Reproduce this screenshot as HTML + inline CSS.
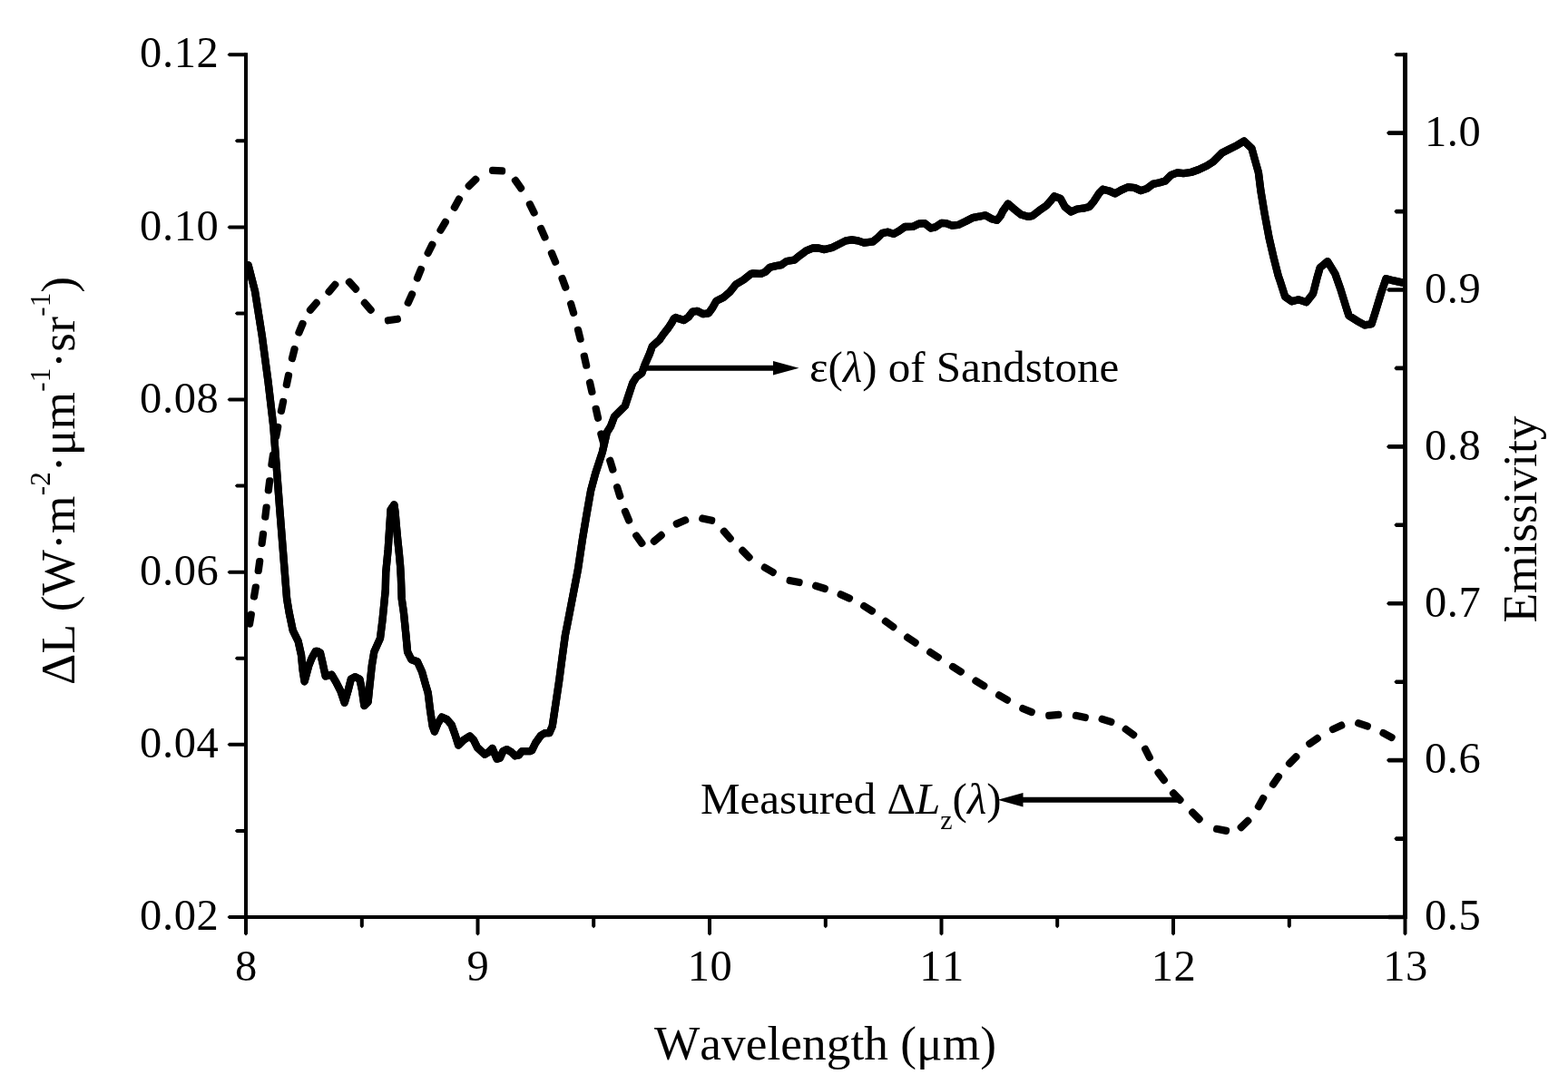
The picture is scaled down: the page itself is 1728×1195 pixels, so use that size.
<!DOCTYPE html>
<html lang="en"><head><meta charset="utf-8"><title>Emissivity and measured radiance of sandstone</title>
<style>html,body{margin:0;padding:0;background:#fff;}body{width:1728px;height:1195px;overflow:hidden;}svg{display:block;}text{font-family:"Liberation Serif","DejaVu Serif",serif;fill:#000;font-kerning:none;}</style>
</head><body>
<svg width="1728" height="1195" viewBox="0 0 1728 1195">
<rect width="1728" height="1195" fill="#fff"/>
<g fill="#000">
<rect x="269.0" y="58.2" width="4.0" height="954.8"/>
<rect x="269.0" y="1009.0" width="1282.0" height="4.0"/>
<rect x="1546.0" y="58.2" width="5.0" height="954.8"/>
<path d="M271.0 1009.0 H252.5 L250.5 1011.0 L252.5 1013.0 H271.0 Z M271.0 913.9 H260.8 L258.8 915.9 L260.8 917.9 H271.0 Z M271.0 818.8 H252.5 L250.5 820.8 L252.5 822.8 H271.0 Z M271.0 723.8 H260.8 L258.8 725.8 L260.8 727.8 H271.0 Z M271.0 628.7 H252.5 L250.5 630.7 L252.5 632.7 H271.0 Z M271.0 533.6 H260.8 L258.8 535.6 L260.8 537.6 H271.0 Z M271.0 438.5 H252.5 L250.5 440.5 L252.5 442.5 H271.0 Z M271.0 343.4 H260.8 L258.8 345.4 L260.8 347.4 H271.0 Z M271.0 248.4 H252.5 L250.5 250.4 L252.5 252.4 H271.0 Z M271.0 153.3 H260.8 L258.8 155.3 L260.8 157.3 H271.0 Z M271.0 58.2 H252.5 L250.5 60.2 L252.5 62.2 H271.0 Z M1548.5 1008.7 H1530.0 L1528.0 1011.0 L1530.0 1013.3 H1548.5 Z M1548.5 922.3 H1538.3 L1536.3 924.6 L1538.3 926.9 H1548.5 Z M1548.5 835.8 H1530.0 L1528.0 838.1 L1530.0 840.4 H1548.5 Z M1548.5 749.4 H1538.3 L1536.3 751.7 L1538.3 754.0 H1548.5 Z M1548.5 663.0 H1530.0 L1528.0 665.3 L1530.0 667.6 H1548.5 Z M1548.5 576.5 H1538.3 L1536.3 578.8 L1538.3 581.1 H1548.5 Z M1548.5 490.1 H1530.0 L1528.0 492.4 L1530.0 494.7 H1548.5 Z M1548.5 403.6 H1538.3 L1536.3 405.9 L1538.3 408.2 H1548.5 Z M1548.5 317.2 H1530.0 L1528.0 319.5 L1530.0 321.8 H1548.5 Z M1548.5 230.8 H1538.3 L1536.3 233.1 L1538.3 235.4 H1548.5 Z M1548.5 144.3 H1530.0 L1528.0 146.6 L1530.0 148.9 H1548.5 Z M1548.5 58.2 H1538.3 L1536.3 60.2 L1538.3 62.2 H1548.5 Z M269.0 1011.0 V1029.5 L271.0 1031.5 L273.0 1029.5 V1011.0 Z M396.8 1011.0 V1021.2 L398.8 1023.2 L400.8 1021.2 V1011.0 Z M524.5 1011.0 V1029.5 L526.5 1031.5 L528.5 1029.5 V1011.0 Z M652.2 1011.0 V1021.2 L654.2 1023.2 L656.2 1021.2 V1011.0 Z M780.0 1011.0 V1029.5 L782.0 1031.5 L784.0 1029.5 V1011.0 Z M907.8 1011.0 V1021.2 L909.8 1023.2 L911.8 1021.2 V1011.0 Z M1035.5 1011.0 V1029.5 L1037.5 1031.5 L1039.5 1029.5 V1011.0 Z M1163.2 1011.0 V1021.2 L1165.2 1023.2 L1167.2 1021.2 V1011.0 Z M1291.0 1011.0 V1029.5 L1293.0 1031.5 L1295.0 1029.5 V1011.0 Z M1418.8 1011.0 V1021.2 L1420.8 1023.2 L1422.8 1021.2 V1011.0 Z M1546.5 1011.0 V1029.5 L1548.5 1031.5 L1550.5 1029.5 V1011.0 Z"/>
</g>
<g font-size="48.5" letter-spacing="0.6">
<text x="241.4" y="1025.2" text-anchor="end">0.02</text>
<text x="241.4" y="835.0" text-anchor="end">0.04</text>
<text x="241.4" y="644.9" text-anchor="end">0.06</text>
<text x="241.4" y="454.7" text-anchor="end">0.08</text>
<text x="241.4" y="264.6" text-anchor="end">0.10</text>
<text x="241.4" y="74.4" text-anchor="end">0.12</text>
<text x="1570" y="1025.2">0.5</text>
<text x="1570" y="852.3">0.6</text>
<text x="1570" y="679.5">0.7</text>
<text x="1570" y="506.6">0.8</text>
<text x="1570" y="333.7">0.9</text>
<text x="1570" y="160.8">1.0</text>
<text x="271.5" y="1080.8" text-anchor="middle">8</text>
<text x="527.0" y="1080.8" text-anchor="middle">9</text>
<text x="782.5" y="1080.8" text-anchor="middle">10</text>
<text x="1038.0" y="1080.8" text-anchor="middle">11</text>
<text x="1293.5" y="1080.8" text-anchor="middle">12</text>
<text x="1549.0" y="1080.8" text-anchor="middle">13</text>
</g>
<text x="721" y="1168" font-size="53.3" textLength="377" lengthAdjust="spacing">Wavelength (μm)</text>
<text transform="translate(81.7 755) rotate(-90)" letter-spacing="0.18" font-size="53.3">ΔL (W·m<tspan dy="-27" font-size="31">-2</tspan><tspan dy="27">·μm</tspan><tspan dy="-27" font-size="31">-1</tspan><tspan dy="27">·sr</tspan><tspan dy="-27" font-size="31">-1</tspan><tspan dy="27">)</tspan></text>
<text transform="translate(1693 686.5) rotate(-90)" font-size="53.3">Emissivity</text>
<text x="892" y="421.3" font-size="49">ε(<tspan font-style="italic">λ</tspan>) of Sandstone</text>
<text x="772" y="897" font-size="49">Measured Δ<tspan font-style="italic">L</tspan><tspan dy="16.5" font-size="30">z</tspan><tspan dy="-16.5">(</tspan><tspan font-style="italic">λ</tspan>)</text>
<g stroke="#000" stroke-width="6" fill="#000">
<path d="M708 405.7 H855" fill="none"/><path d="M880.5 405.7 L852 398 V413.4 Z" stroke="none"/>
<path d="M1298 881.8 H1125" fill="none"/><path d="M1099.5 881.8 L1127.5 874.1 V889.5 Z" stroke="none"/>
</g>
<g fill="none" stroke="#000">
<path d="M273.6 292.2 L281.0 321.0 L288.8 370.4 L295.5 420.6 L301.3 470.0 L308.2 560.4 L316.1 660.0 L318.6 675.1 L322.8 695.2 L328.6 706.9 L332.0 722.0 L333.6 738.7 L335.6 751.3 L340.3 733.7 L343.7 725.3 L347.9 717.8 L349.9 717.8 L352.9 719.5 L355.4 730.3 L358.7 745.4 L365.4 743.7 L370.4 752.1 L375.5 762.1 L379.7 774.7 L383.8 760.5 L386.8 748.7 L391.4 746.2 L396.4 748.7 L398.9 760.5 L401.4 778.0 L405.6 773.8 L407.3 757.1 L409.8 733.7 L412.3 718.6 L419.0 703.6 L421.5 683.5 L423.2 666.7 L424.8 650.0 L425.2 631.2 L427.7 605.3 L429.4 579.3 L430.6 561.8 L434.4 556.3 L435.6 565.1 L436.5 576.0 L438.2 594.4 L439.8 609.5 L441.1 623.7 L441.9 637.1 L442.7 660.0 L444.9 675.1 L447.4 700.2 L449.1 718.6 L453.3 727.0 L460.0 729.5 L465.0 740.4 L469.2 755.4 L471.7 763.8 L474.2 783.9 L476.7 800.6 L478.9 806.5 L482.6 797.3 L486.8 790.6 L492.6 793.1 L497.6 799.0 L501.8 810.7 L505.2 821.5 L511.0 815.7 L517.7 811.5 L521.9 815.7 L526.1 824.1 L534.2 831.6 L538.4 829.1 L542.6 824.9 L545.1 830.8 L547.6 836.6 L550.9 835.8 L554.3 828.2 L558.4 826.1 L563.5 829.1 L567.7 833.3 L571.8 832.4 L575.2 828.2 L583.6 828.2 L586.1 827.4 L590.2 819.0 L596.1 810.7 L600.3 808.2 L605.3 808.2 L608.7 800.6 L611.2 783.9 L613.7 767.2 L616.2 750.4 L619.5 725.3 L622.9 700.2 L626.2 683.5 L637.0 627.4 L642.0 593.9 L646.2 568.8 L651.2 540.3 L656.2 521.9 L663.8 498.5 L668.8 476.7 L673.0 470.0 L677.1 459.1 L688.9 447.4 L692.2 437.4 L697.2 422.3 L701.4 415.6 L707.3 411.4 L710.6 402.2 L715.9 390.0 L718.8 381.8 L723.4 377.7 L726.8 374.7 L731.0 368.5 L736.0 362.2 L740.2 355.9 L742.7 351.3 L744.8 350.0 L748.1 351.3 L753.6 353.0 L758.6 349.6 L763.3 343.6 L768.3 342.8 L775.0 346.2 L780.9 345.3 L785.1 339.5 L789.3 331.9 L797.6 327.7 L804.3 321.9 L811.0 313.5 L819.4 308.5 L827.8 301.8 L830.0 301.4 L838.4 301.9 L843.4 299.7 L848.4 294.7 L855.1 293.1 L861.0 292.2 L866.8 288.0 L875.2 286.7 L881.9 281.3 L888.6 276.3 L896.1 273.3 L902.0 273.5 L908.7 275.1 L917.0 273.0 L923.7 269.6 L932.1 265.4 L938.8 264.3 L945.5 265.4 L952.2 267.6 L962.2 266.3 L967.2 262.1 L972.2 257.1 L978.1 255.7 L984.8 257.9 L990.7 254.6 L997.3 250.0 L1005.7 249.9 L1012.4 246.7 L1019.1 246.2 L1025.8 251.5 L1030.8 250.4 L1037.5 245.9 L1042.5 246.2 L1049.2 248.7 L1055.9 247.9 L1064.3 244.0 L1072.6 239.8 L1079.3 238.7 L1086.0 237.3 L1092.7 241.2 L1098.6 242.8 L1102.8 237.8 L1105.0 233.0 L1110.9 224.6 L1116.7 229.7 L1125.1 236.4 L1133.5 238.9 L1137.7 238.0 L1145.2 232.2 L1153.6 226.3 L1158.6 220.5 L1161.9 216.3 L1168.6 218.8 L1173.6 228.0 L1180.3 233.5 L1187.0 230.5 L1193.7 229.7 L1200.4 228.0 L1205.4 222.1 L1211.3 212.9 L1215.5 208.7 L1222.2 210.4 L1228.9 213.4 L1235.5 209.6 L1243.1 206.2 L1250.6 207.1 L1257.3 210.1 L1264.0 207.9 L1270.7 202.9 L1278.2 201.2 L1284.1 199.5 L1290.8 192.8 L1297.5 190.3 L1304.2 191.2 L1312.5 190.0 L1320.9 187.0 L1330.0 182.7 L1336.7 178.5 L1346.7 168.5 L1355.1 164.3 L1363.5 160.1 L1371.0 155.4 L1379.4 163.4 L1383.6 178.5 L1386.9 190.2 L1389.4 210.3 L1393.6 235.4 L1398.6 262.2 L1403.6 283.9 L1408.7 304.0 L1410.3 308.6 L1416.2 327.0 L1423.7 332.3 L1431.2 330.3 L1439.6 333.2 L1447.1 323.6 L1451.3 306.9 L1454.7 295.2 L1463.0 288.2 L1471.4 301.9 L1477.3 318.6 L1484.0 340.4 L1486.5 347.9 L1495.7 353.8 L1504.0 358.3 L1511.6 357.1 L1515.8 343.7 L1522.4 322.0 L1527.5 307.2 L1535.8 309.4 L1545.9 311.6" stroke-width="8.3" stroke-linejoin="round" stroke-linecap="round"/>
<path d="M273.6 292.2 L281.0 321.0 L288.8 370.4 L295.5 420.6 L301.3 470.0 L308.2 560.4 L316.1 660.0 L318.6 675.1 L322.8 695.2 L328.6 706.9 L332.0 722.0 L333.6 738.7 L335.6 751.3 L340.3 733.7 L343.7 725.3 L347.9 717.8 L349.9 717.8 L352.9 719.5 L355.4 730.3 L358.7 745.4 L365.4 743.7 L370.4 752.1 L375.5 762.1 L379.7 774.7 L383.8 760.5 L386.8 748.7 L391.4 746.2 L396.4 748.7 L398.9 760.5 L401.4 778.0 L405.6 773.8 L407.3 757.1 L409.8 733.7 L412.3 718.6 L419.0 703.6 L421.5 683.5 L423.2 666.7 L424.8 650.0 L425.2 631.2 L427.7 605.3 L429.4 579.3 L430.6 561.8 L434.4 556.3 L435.6 565.1 L436.5 576.0 L438.2 594.4 L439.8 609.5 L441.1 623.7 L441.9 637.1 L442.7 660.0 L444.9 675.1 L447.4 700.2 L449.1 718.6 L453.3 727.0 L460.0 729.5 L465.0 740.4 L469.2 755.4 L471.7 763.8 L474.2 783.9 L476.7 800.6 L478.9 806.5 L482.6 797.3 L486.8 790.6 L492.6 793.1 L497.6 799.0 L501.8 810.7 L505.2 821.5 L511.0 815.7 L517.7 811.5 L521.9 815.7 L526.1 824.1 L534.2 831.6 L538.4 829.1 L542.6 824.9 L545.1 830.8 L547.6 836.6 L550.9 835.8 L554.3 828.2 L558.4 826.1 L563.5 829.1 L567.7 833.3 L571.8 832.4 L575.2 828.2 L583.6 828.2 L586.1 827.4 L590.2 819.0 L596.1 810.7 L600.3 808.2 L605.3 808.2 L608.7 800.6 L611.2 783.9 L613.7 767.2 L616.2 750.4 L619.5 725.3 L622.9 700.2 L626.2 683.5 L637.0 627.4 L642.0 593.9 L646.2 568.8 L651.2 540.3 L656.2 521.9 L663.8 498.5 L668.8 476.7 L673.0 470.0 L677.1 459.1 L688.9 447.4 L692.2 437.4 L697.2 422.3 L701.4 415.6 L707.3 411.4 L710.6 402.2 L715.9 390.0 L718.8 381.8 L723.4 377.7 L726.8 374.7 L731.0 368.5 L736.0 362.2 L740.2 355.9 L742.7 351.3 L744.8 350.0 L748.1 351.3 L753.6 353.0 L758.6 349.6 L763.3 343.6 L768.3 342.8 L775.0 346.2 L780.9 345.3 L785.1 339.5 L789.3 331.9 L797.6 327.7 L804.3 321.9 L811.0 313.5 L819.4 308.5 L827.8 301.8 L830.0 301.4 L838.4 301.9 L843.4 299.7 L848.4 294.7 L855.1 293.1 L861.0 292.2 L866.8 288.0 L875.2 286.7 L881.9 281.3 L888.6 276.3 L896.1 273.3 L902.0 273.5 L908.7 275.1 L917.0 273.0 L923.7 269.6 L932.1 265.4 L938.8 264.3 L945.5 265.4 L952.2 267.6 L962.2 266.3 L967.2 262.1 L972.2 257.1 L978.1 255.7 L984.8 257.9 L990.7 254.6 L997.3 250.0 L1005.7 249.9 L1012.4 246.7 L1019.1 246.2 L1025.8 251.5 L1030.8 250.4 L1037.5 245.9 L1042.5 246.2 L1049.2 248.7 L1055.9 247.9 L1064.3 244.0 L1072.6 239.8 L1079.3 238.7 L1086.0 237.3 L1092.7 241.2 L1098.6 242.8 L1102.8 237.8 L1105.0 233.0 L1110.9 224.6 L1116.7 229.7 L1125.1 236.4 L1133.5 238.9 L1137.7 238.0 L1145.2 232.2 L1153.6 226.3 L1158.6 220.5 L1161.9 216.3 L1168.6 218.8 L1173.6 228.0 L1180.3 233.5 L1187.0 230.5 L1193.7 229.7 L1200.4 228.0 L1205.4 222.1 L1211.3 212.9 L1215.5 208.7 L1222.2 210.4 L1228.9 213.4 L1235.5 209.6 L1243.1 206.2 L1250.6 207.1 L1257.3 210.1 L1264.0 207.9 L1270.7 202.9 L1278.2 201.2 L1284.1 199.5 L1290.8 192.8 L1297.5 190.3 L1304.2 191.2 L1312.5 190.0 L1320.9 187.0 L1330.0 182.7 L1336.7 178.5 L1346.7 168.5 L1355.1 164.3 L1363.5 160.1 L1371.0 155.4 L1379.4 163.4 L1383.6 178.5 L1386.9 190.2 L1389.4 210.3 L1393.6 235.4 L1398.6 262.2 L1403.6 283.9 L1408.7 304.0 L1410.3 308.6 L1416.2 327.0 L1423.7 332.3 L1431.2 330.3 L1439.6 333.2 L1447.1 323.6 L1451.3 306.9 L1454.7 295.2 L1463.0 288.2 L1471.4 301.9 L1477.3 318.6 L1484.0 340.4 L1486.5 347.9 L1495.7 353.8 L1504.0 358.3 L1511.6 357.1 L1515.8 343.7 L1522.4 322.0 L1527.5 307.2 L1535.8 309.4 L1545.9 311.6" stroke-width="8.3" stroke-linejoin="round" stroke-linecap="round"/>
<path d="M274.5 688.0 L276.3 677.1 L277.3 677.3 L275.5 688.1Z M279.5 657.8 L281.3 647.0 L282.3 647.1 L280.5 658.0Z M284.2 629.4 L285.7 618.5 L286.7 618.6 L285.2 629.5Z M288.1 599.3 L289.5 588.4 L290.5 588.5 L289.1 599.4Z M291.8 570.0 L293.1 559.1 L294.1 559.2 L292.8 570.1Z M295.3 540.7 L296.7 529.8 L297.7 529.9 L296.3 540.8Z M298.9 512.2 L300.5 501.3 L301.5 501.5 L299.9 512.4Z M303.7 481.2 L305.7 470.4 L306.7 470.6 L304.7 481.4Z M309.4 453.2 L311.7 442.4 L312.6 442.6 L310.4 453.4Z M315.3 424.2 L317.5 413.5 L318.5 413.7 L316.3 424.4Z M321.4 395.2 L324.1 384.5 L325.1 384.8 L322.4 395.5Z M328.9 366.6 L333.1 356.5 L334.1 356.8 L329.8 367.0Z M341.4 341.6 L348.6 333.3 L349.3 334.0 L342.1 342.3Z M362.0 321.6 L369.1 313.2 L369.8 313.8 L362.8 322.2Z M385.2 310.3 L392.6 318.4 L391.9 319.1 L384.4 311.0Z M402.0 333.3 L409.2 341.6 L408.5 342.3 L401.3 334.0Z M427.4 352.8 L438.2 351.2 L438.4 352.2 L427.5 353.8Z M449.2 333.9 L453.7 323.9 L454.6 324.3 L450.1 334.3Z M459.4 306.7 L463.5 296.5 L464.4 296.9 L460.3 307.1Z M471.1 279.0 L476.0 269.2 L476.9 269.7 L472.0 279.5Z M485.0 253.7 L490.5 244.2 L491.4 244.8 L485.8 254.2Z M500.3 228.7 L505.6 219.1 L506.5 219.6 L501.2 229.2Z M516.2 204.8 L524.1 197.2 L524.8 197.9 L516.9 205.6Z M542.6 187.4 L553.6 187.9 L553.6 188.9 L542.6 188.4Z M568.3 198.4 L574.6 207.4 L573.8 208.0 L567.4 199.0Z M584.3 224.7 L589.1 234.6 L588.2 235.0 L583.4 225.1Z M596.5 251.5 L601.0 261.6 L600.1 262.0 L595.6 251.9Z M608.4 278.6 L612.6 288.8 L611.7 289.2 L607.4 279.0Z M620.0 306.5 L623.8 316.8 L622.8 317.2 L619.0 306.9Z M629.5 334.5 L632.6 345.1 L631.7 345.4 L628.6 334.8Z M637.5 363.3 L640.1 374.0 L639.2 374.2 L636.5 363.5Z M644.3 392.2 L646.7 403.0 L645.7 403.2 L643.3 392.4Z M650.5 421.3 L652.9 432.1 L651.9 432.3 L649.5 421.6Z M657.2 450.3 L659.6 461.0 L658.6 461.3 L656.2 450.5Z M662.8 478.0 L665.7 488.6 L664.8 488.9 L661.8 478.3Z M672.7 507.3 L675.9 517.8 L674.9 518.1 L671.7 507.6Z M680.5 536.6 L683.8 547.1 L682.8 547.4 L679.6 536.9Z M689.3 563.5 L693.6 573.7 L692.7 574.0 L688.4 563.9Z M701.5 590.0 L707.9 598.9 L707.0 599.5 L700.7 590.5Z M720.3 596.6 L728.7 589.4 L729.3 590.2 L721.0 597.4Z M745.2 577.1 L755.3 572.9 L755.7 573.8 L745.6 578.1Z M774.0 571.0 L784.7 573.3 L784.5 574.3 L773.7 571.9Z M798.1 585.2 L805.3 593.5 L804.6 594.2 L797.3 585.9Z M818.4 606.4 L826.1 614.2 L825.4 614.9 L817.7 607.1Z M842.8 625.1 L852.3 630.6 L851.8 631.5 L842.3 626.0Z M870.3 639.5 L881.1 641.6 L880.9 642.5 L870.1 640.4Z M898.9 645.3 L909.4 648.5 L909.1 649.5 L898.6 646.2Z M926.5 654.7 L936.5 659.2 L936.1 660.1 L926.1 655.6Z M952.2 667.5 L961.5 673.3 L960.9 674.1 L951.6 668.3Z M976.0 684.4 L984.9 690.9 L984.3 691.7 L975.4 685.2Z M1000.2 702.1 L1009.2 708.3 L1008.7 709.1 L999.6 702.9Z M1025.2 718.4 L1034.4 724.4 L1033.9 725.2 L1024.6 719.3Z M1050.0 734.4 L1059.4 740.2 L1058.8 741.1 L1049.5 735.3Z M1075.5 750.0 L1084.8 755.8 L1084.3 756.6 L1074.9 750.9Z M1101.0 765.8 L1110.5 771.3 L1110.0 772.2 L1100.5 766.7Z M1127.0 780.5 L1137.3 784.6 L1136.9 785.6 L1126.7 781.5Z M1155.7 788.4 L1166.7 787.4 L1166.8 788.4 L1155.8 789.4Z M1185.6 788.3 L1196.3 790.6 L1196.1 791.5 L1185.4 789.3Z M1214.4 792.2 L1224.9 795.4 L1224.6 796.4 L1214.1 793.1Z M1240.8 803.4 L1249.7 809.8 L1249.1 810.6 L1240.2 804.2Z M1262.4 825.3 L1267.4 835.1 L1266.5 835.5 L1261.6 825.7Z M1276.8 851.2 L1283.4 859.9 L1282.6 860.6 L1276.0 851.8Z M1293.3 873.9 L1301.0 881.7 L1300.3 882.4 L1292.5 874.6Z M1314.3 895.1 L1322.1 902.9 L1321.4 903.6 L1313.6 895.8Z M1340.8 913.3 L1351.6 915.4 L1351.4 916.4 L1340.6 914.3Z M1367.2 911.9 L1375.1 904.3 L1375.8 905.0 L1367.9 912.6Z M1386.4 889.2 L1391.8 879.6 L1392.7 880.1 L1387.3 889.7Z M1402.4 864.7 L1408.7 855.6 L1409.5 856.2 L1403.3 865.2Z M1420.5 841.6 L1428.2 833.7 L1428.9 834.4 L1421.3 842.3Z M1442.7 819.6 L1451.7 813.4 L1452.3 814.2 L1443.2 820.4Z M1468.4 803.7 L1478.4 799.1 L1478.8 800.0 L1468.8 804.6Z M1496.9 796.7 L1507.4 800.1 L1507.1 801.0 L1496.6 797.6Z M1524.3 807.5 L1534.1 812.7 L1533.6 813.6 L1523.9 808.4Z" fill="#000" stroke-width="7.2" stroke-linejoin="round"/>
</g>
</svg>
</body></html>
